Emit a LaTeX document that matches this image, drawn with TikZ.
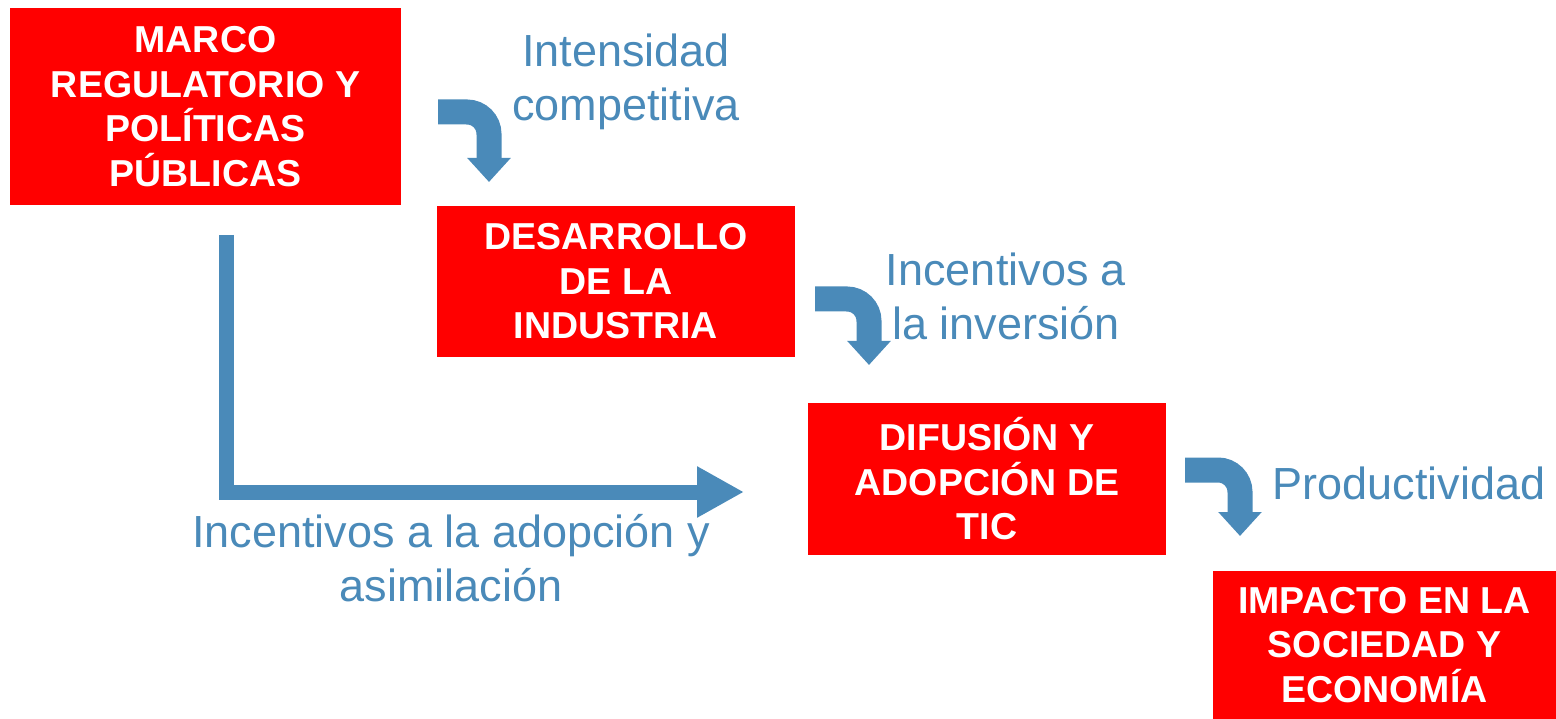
\documentclass[tikz,border=0pt]{standalone}
\usepackage{fontspec}
\setmainfont{Liberation Sans}
\usetikzlibrary{arrows.meta}
\definecolor{tblue}{HTML}{4A8AB9}
\definecolor{tred}{HTML}{FF0000}
\begin{document}
\begin{tikzpicture}[x=1pt,y=-1pt,
  box/.style={fill=tred, text=white, font=\bfseries\fontsize{37.5}{44.5}\selectfont, align=center, inner sep=0pt},
  lbl/.style={text=tblue, font=\fontsize{45}{54}\selectfont, align=center, inner sep=0pt},
  bentarrow/.style={draw=tblue, line width=25pt, rounded corners=22pt, -{Triangle[length=24pt,width=42pt]}},
  bigarrow/.style={draw=tblue, line width=15pt, -{Triangle[length=47pt,width=48pt]}}]
\useasboundingbox (0,0) rectangle (1556,719);
% boxes
\node[box, minimum width=391pt, minimum height=197pt] (marco) at (205.5,106.5) {MARCO\\REGULATORIO Y\\POLÍTICAS\\PÚBLICAS};
\node[box, minimum width=358pt, minimum height=151pt] (desa) at (616,281.5) {DESARROLLO\\DE LA\\INDUSTRIA};
\node[box, minimum width=358pt, minimum height=152pt] (difu) at (987,479) {DIFUSIÓN Y\\ADOPCIÓN DE\\TIC};
\node[box, minimum width=343pt, minimum height=148pt] (impa) at (1384.5,645) {IMPACTO EN LA\\SOCIEDAD Y\\ECONOMÍA};
% labels
\node[lbl] (l1) at (626,82) {Intensidad\\competitiva};
\node[lbl] (l2) at (1006,296) {Incentivos a\\la inversión};
\node[lbl] (l3) at (1409,483) {Productividad};
\node[lbl] (l4) at (451,558.5) {Incentivos a la adopción y\\asimilación};
% bent arrows
\coordinate (a1s) at (438,112);
\coordinate (a1t) at (489,182);
\draw[bentarrow] (a1s) -| (a1t);
\coordinate (a2s) at (815,299);
\coordinate (a2t) at (869,365);
\draw[bentarrow] (a2s) -| (a2t);
\coordinate (a3s) at (1185,470);
\coordinate (a3t) at (1240,536);
\draw[bentarrow] (a3s) -| (a3t);
% L arrow
\coordinate (ls) at (226,235);
\coordinate (lt) at (744,492);
\draw[bigarrow] (ls) |- (lt);
\end{tikzpicture}
\end{document}
